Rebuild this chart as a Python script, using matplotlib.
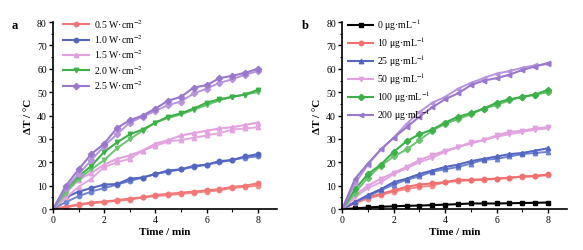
"""
Photothermal heating curves: (a) laser power density, (b) concentration.
"""

import matplotlib.pyplot as plt
from matplotlib.ticker import MultipleLocator

plt.rcParams['font.family'] = ['Liberation Serif', 'DejaVu Serif']
plt.rcParams['mathtext.fontset'] = 'stix'

time_min = [0, 0.5, 1, 1.5, 2, 2.5, 3, 3.5, 4, 4.5, 5, 5.5, 6, 6.5, 7, 7.5, 8]

# panel a: power density, two runs each
power_labels = ['0.5 W·cm$^{-2}$', '1.0 W·cm$^{-2}$', '1.5 W·cm$^{-2}$',
                '2.0 W·cm$^{-2}$', '2.5 W·cm$^{-2}$']
p05_run1 = [0, 1, 2, 2.8, 3.2, 3.8, 4.5, 5, 6, 6.5, 7, 7.5, 8, 8.5, 9.5, 10, 11]
p05_run2 = [0, 0.8, 1.7, 2.5, 3, 3.5, 4, 5, 5.5, 6, 6.5, 7, 7.5, 8, 9, 9.5, 10]
p10_run1 = [0, 5, 7.5, 9, 10.5, 10.7, 13, 13.5, 15, 16.5, 17, 18.5, 19, 20.5, 21, 22.5, 23.5]
p10_run2 = [0, 3, 5.5, 7.5, 9, 10.5, 12, 13.5, 15, 16, 17, 18, 19, 20, 21, 22, 22.5]
p15_run1 = [0, 7, 12.5, 15.5, 19, 21.5, 23, 25, 28, 29.5, 31.5, 32.5, 33.5, 34.5, 35, 36, 37]
p15_run2 = [0, 5, 9.5, 13, 18, 20, 21.5, 25, 27, 29, 29.5, 30.5, 31.5, 32.5, 34, 34.5, 35]
p20_run1 = [0, 8.5, 14, 18.5, 24.5, 28.5, 32, 34, 37, 39.5, 41, 43, 45.5, 47, 48, 49, 51]
p20_run2 = [0, 7, 13, 17, 21, 26, 30, 33.5, 37, 39, 40.5, 42.5, 44.5, 46.5, 48, 49, 50]
p25_run1 = [0, 10, 17, 23.6, 28, 34.7, 38, 40, 43, 46.4, 48, 52, 53, 56, 57, 58.3, 60]
p25_run2 = [0, 9, 15, 21, 27, 32, 37, 39.5, 42, 44.5, 46, 49.5, 51.5, 54, 55.5, 57.5, 59]

# panel b: concentration, two runs each (0 ug/mL single run)
conc_labels = ['0 μg·mL$^{-1}$', '10 μg·mL$^{-1}$', '25 μg·mL$^{-1}$',
               '50 μg·mL$^{-1}$', '100 μg·mL$^{-1}$', '200 μg·mL$^{-1}$']
c0_run1 = [0, 0.3, 0.7, 1, 1.2, 1.4, 1.5, 1.7, 1.9, 2.1, 2.4, 2.4, 2.4, 2.5, 2.6, 2.7, 2.8]
c10_run1 = [0, 3, 5, 6.5, 8, 9.5, 10.5, 11, 11.5, 12.5, 12.5, 12.8, 13, 13.3, 14, 14.2, 14.8]
c10_run2 = [0, 2.5, 4.5, 6, 7.5, 8.5, 9.5, 10, 11.5, 12, 12.3, 12.5, 13, 13.5, 13.8, 14, 14.5]
c25_run1 = [0, 3, 6, 8.5, 11.5, 13, 15, 16.5, 18, 19, 20.5, 21.5, 22.5, 23.5, 24, 25, 26]
c25_run2 = [0, 3, 5.5, 8, 10.5, 12.5, 14, 16, 17, 18, 19.5, 21, 21.5, 22.5, 23.5, 24, 24.5]
c50_run1 = [0, 6, 10, 13, 15.5, 18, 21, 23, 25, 26.5, 28.5, 29.5, 31.5, 33, 33.5, 34.5, 35]
c50_run2 = [0, 5, 9, 11.5, 15, 17.5, 20, 22, 24.5, 26.5, 28, 29.5, 31, 32, 33, 34, 34.5]
c100_run1 = [0, 8.5, 15, 19, 24.5, 29, 32, 34, 37, 39.5, 41, 43, 45.5, 47, 48, 49, 51]
c100_run2 = [0, 7, 13.5, 18.5, 22.5, 25.5, 29.5, 33.5, 36.5, 38.5, 40.5, 43, 44.5, 46.5, 48, 49, 50]
c200_run1 = [0, 13, 19.5, 25.5, 30.5, 35, 39.5, 43.5, 47, 49.5, 53, 55, 56, 57.5, 59.5, 61, 62.5]
c200_run2 = [0, 11, 19, 25.5, 30.5, 36.5, 41.5, 45.5, 48, 51.5, 54, 56, 58, 59, 60.5, 61.5, 62]


def style_axes(ax, letter, fig_x):
    ax.set_xlim(0, 8.75)
    ax.set_ylim(0, 80)
    ax.spines['top'].set_visible(False)
    ax.spines['right'].set_visible(False)
    ax.spines['left'].set_bounds(0, 80)
    for side in ['left', 'bottom']:
        ax.spines[side].set_linewidth(1.2)
    ax.xaxis.set_major_locator(MultipleLocator(2))
    ax.xaxis.set_minor_locator(MultipleLocator(1))
    ax.yaxis.set_major_locator(MultipleLocator(10))
    ax.yaxis.set_minor_locator(MultipleLocator(5))
    ax.tick_params(which='major', length=3, width=1, labelsize=7, pad=1.5)
    ax.tick_params(which='minor', length=1.8, width=0.8)
    ax.set_xlabel('Time / min', fontsize=8, fontweight='bold', labelpad=2)
    ax.set_ylabel('ΔT / °C', fontsize=8, fontweight='bold', labelpad=3)
    ax.figure.text(fig_x, 0.885, letter, fontsize=9, fontweight='bold')


def plot_pair(ax, run1, run2, c1, c2, marker, label):
    ax.plot(time_min, run2, color=c2, marker=marker, markersize=3.2,
            linewidth=1.4)
    ax.plot(time_min, run1, color=c1, marker=marker, markersize=3.2,
            linewidth=1.5, label=label)


fig = plt.figure(figsize=(5.83, 2.51), dpi=100)
ax_a = fig.add_axes([0.091, 0.163, 0.384, 0.745])
ax_b = fig.add_axes([0.587, 0.163, 0.386, 0.745])

# Panel a
plot_pair(ax_a, p05_run1, p05_run2, '#EE3A3A', '#F48A8A', 'o', power_labels[0])
plot_pair(ax_a, p10_run1, p10_run2, '#3646AE', '#6E84D2', 'o', power_labels[1])
plot_pair(ax_a, p15_run1, p15_run2, '#C455B8', '#E3A6E0', '^', power_labels[2])
plot_pair(ax_a, p20_run1, p20_run2, '#2E9E3A', '#6CC470', 'v', power_labels[3])
plot_pair(ax_a, p25_run1, p25_run2, '#7C4FBC', '#B894DC', 'D', power_labels[4])

handles, _ = ax_a.get_legend_handles_labels()
leg_cols = ['#F07878', '#5566C0', '#E2A2E0', '#3DB04A', '#9A78CC']
for h, c in zip(handles, leg_cols):
    h.set_color(c)
ax_a.legend(handles, power_labels, loc='upper left', bbox_to_anchor=(0.02, 1.06),
            frameon=False, fontsize=7, handlelength=2.6, handletextpad=0.6,
            labelspacing=0.25, borderaxespad=0.2)
style_axes(ax_a, 'a', 0.02)

# Panel b
ax_b.plot(time_min, c0_run1, color='black', marker='s', markersize=2.8,
          linewidth=1.5, label=conc_labels[0])
plot_pair(ax_b, c10_run1, c10_run2, '#EE3A3A', '#F48A8A', 'o', conc_labels[1])
plot_pair(ax_b, c25_run1, c25_run2, '#3646AE', '#6E84D2', '^', conc_labels[2])
plot_pair(ax_b, c50_run1, c50_run2, '#C455B8', '#E3A6E0', 'v', conc_labels[3])
plot_pair(ax_b, c100_run1, c100_run2, '#2E9E3A', '#6CC470', 'D', conc_labels[4])
plot_pair(ax_b, c200_run1, c200_run2, '#7C4FBC', '#B894DC', '<', conc_labels[5])

handles, _ = ax_b.get_legend_handles_labels()
leg_cols = ['black', '#F07070', '#5566C0', '#E2A2E0', '#3DB04A', '#9A78CC']
for h, c in zip(handles, leg_cols):
    h.set_color(c)
ax_b.legend(handles, conc_labels, loc='upper left', bbox_to_anchor=(0.0, 1.06),
            frameon=False, fontsize=7, handlelength=2.6, handletextpad=0.4,
            labelspacing=0.25, borderaxespad=0.2)
style_axes(ax_b, 'b', 0.517)

fig.savefig('out.png', dpi=100)
